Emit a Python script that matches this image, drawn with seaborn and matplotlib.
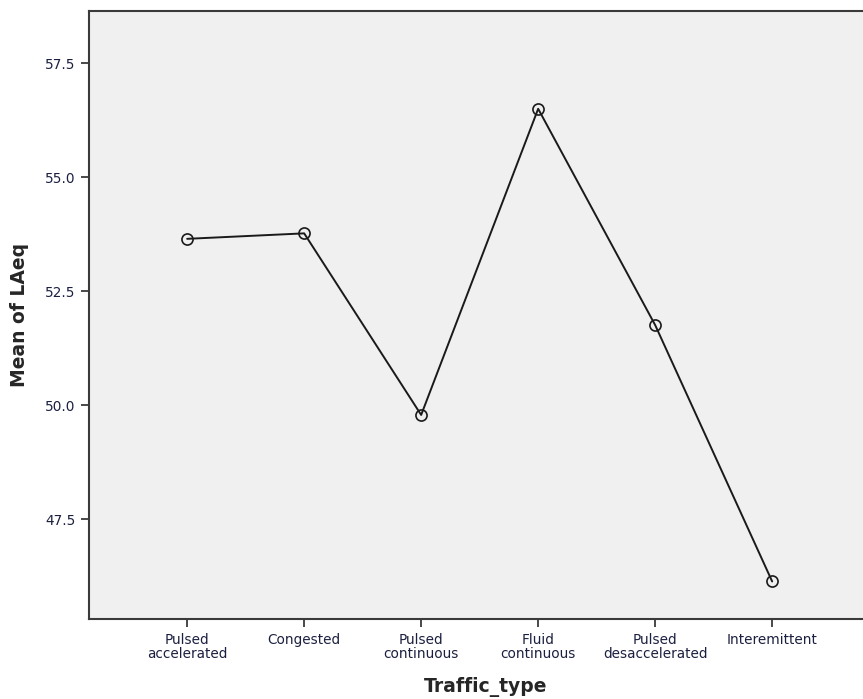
import matplotlib
matplotlib.use("Agg")
import matplotlib.pyplot as plt
import pandas as pd
import seaborn as sns

traffic_types = ["Pulsed\naccelerated", "Congested", "Pulsed\ncontinuous",
                 "Fluid\ncontinuous", "Pulsed\ndesaccelerated", "Interemittent"]
mean_laeq = [53.65, 53.77, 49.79, 56.50, 51.76, 46.14]
y_ticks = [47.5, 50.0, 52.5, 55.0, 57.5]

df = pd.DataFrame({"Traffic_type": traffic_types, "Mean of LAeq": mean_laeq})

sns.set_style("ticks")
plt.rcParams["font.family"] = ["DejaVu Sans"]

fig = plt.figure(figsize=(8.63, 6.99), dpi=100)
ax = fig.add_axes([0.103, 0.114, 0.92, 0.870])
ax.set_facecolor("#f0f0f0")

sns.lineplot(data=df, x="Traffic_type", y="Mean of LAeq", sort=False, ax=ax,
             color="#1a1a1a", linewidth=1.4, marker="o", markersize=8,
             markerfacecolor="none", markeredgecolor="#1a1a1a", markeredgewidth=1.2)

ax.set_xlim(-0.84, 5.946)
ax.set_ylim(45.31, 58.64)
ax.set_yticks(y_ticks)
ax.set_yticklabels([f"{v:.1f}" for v in y_ticks])

for side in ["top", "left", "bottom", "right"]:
    ax.spines[side].set_color("#3a3a3a")
    ax.spines[side].set_linewidth(1.5)

ax.tick_params(axis="both", colors="#3a3a3a", length=6, width=1.3,
               labelcolor="#1c2040", labelsize=9.8)
for lbl in ax.get_xticklabels():
    lbl.set_linespacing(1.0)

ax.set_xlabel("Traffic_type", fontsize=13.5, fontweight="bold", labelpad=12)
ax.set_ylabel("Mean of LAeq", fontsize=13.5, fontweight="bold", labelpad=12)

fig.savefig("out.png", dpi=100)
